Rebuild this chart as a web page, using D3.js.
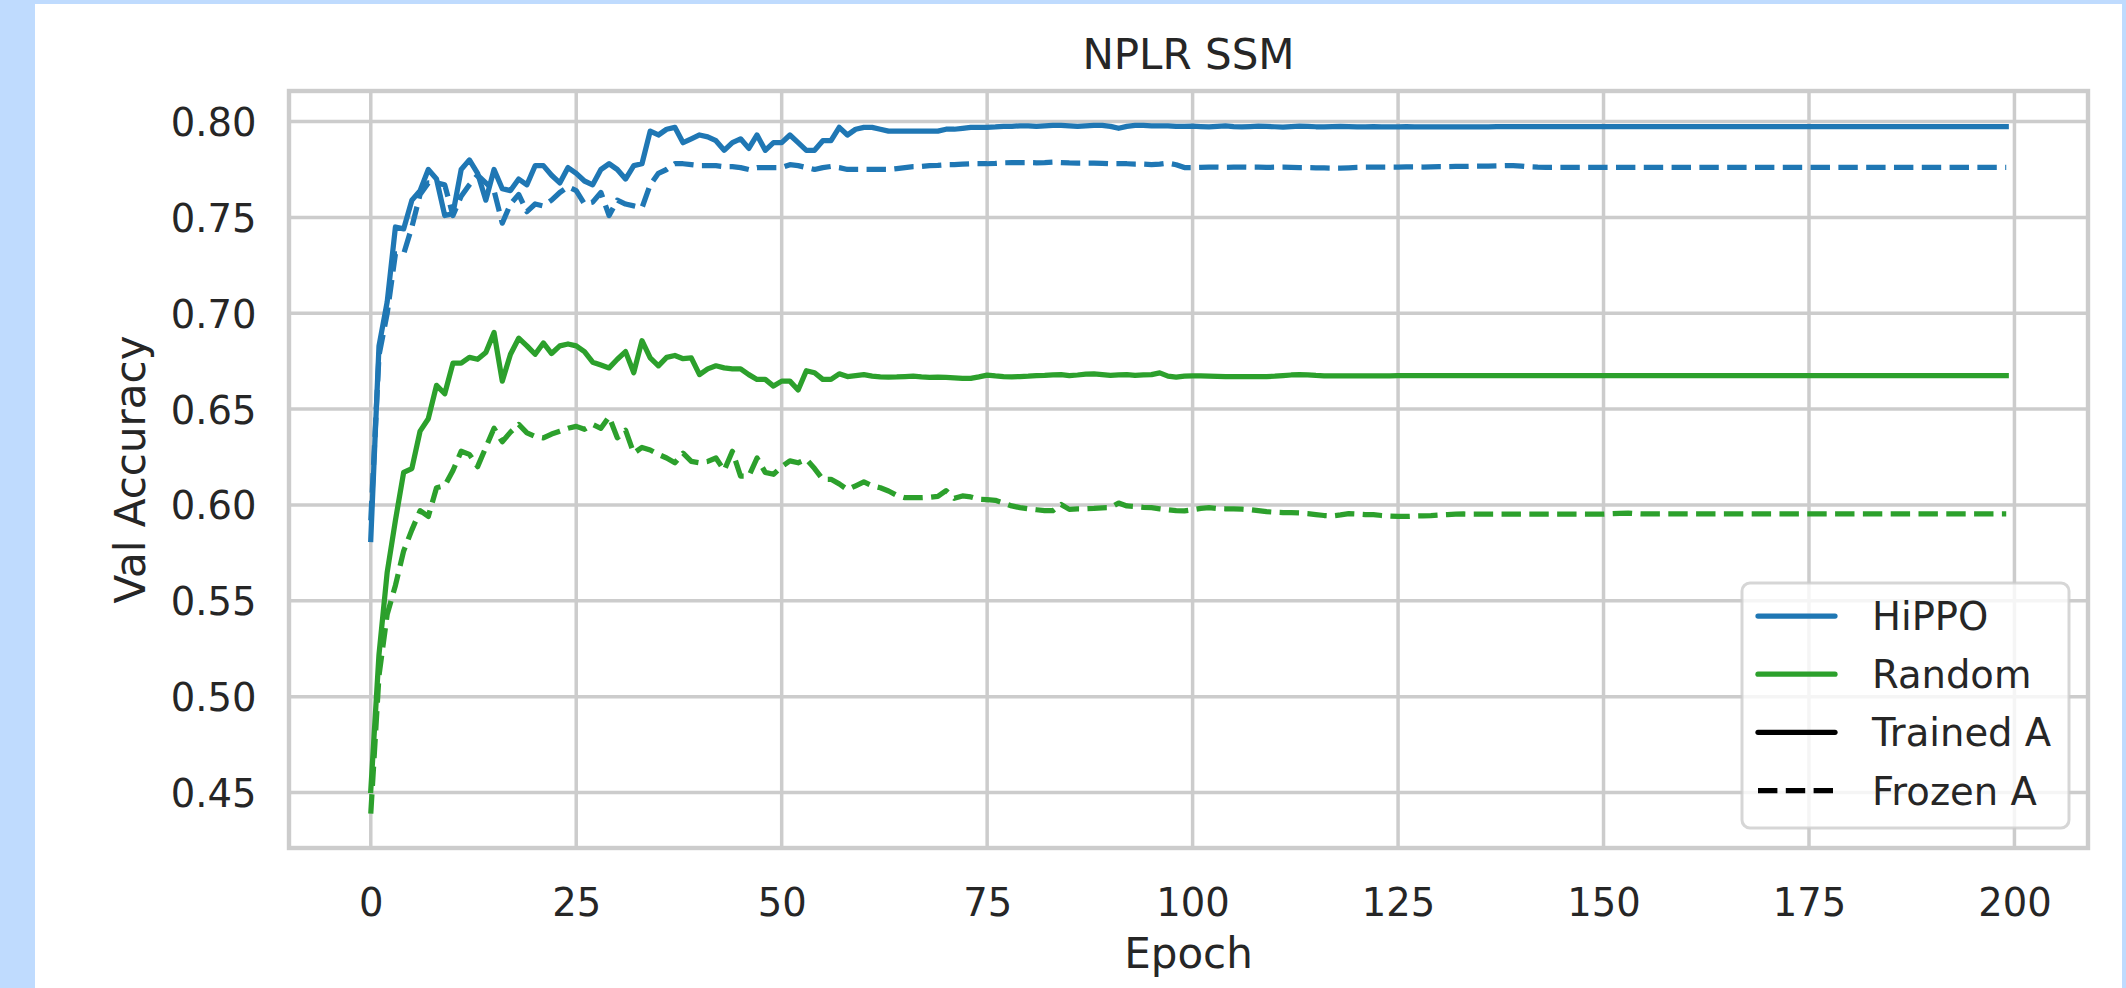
<!DOCTYPE html>
<html>
<head>
<meta charset="utf-8">
<script src="https://cdn.jsdelivr.net/npm/d3@7"></script>
<style>
  html, body { margin: 0; padding: 0; background: #bfdbfe; }
  svg { display: block; }
  text { font-family: "DejaVu Sans", sans-serif; fill: #262626; }
</style>
</head>
<body>
<svg id="chart" width="2126" height="988"></svg>
<script>
// Validation accuracy per epoch (index = epoch)
const hippoTrained = [
  0.582, 0.683, 0.706, 0.745, 0.744, 0.759, 0.764, 0.775, 0.770, 0.751,
  0.752, 0.775, 0.780, 0.773, 0.759, 0.775, 0.765, 0.764, 0.770, 0.767,
  0.777, 0.777, 0.772, 0.768, 0.776, 0.773, 0.769, 0.767, 0.775, 0.778,
  0.775, 0.770, 0.777, 0.778, 0.795, 0.793, 0.796, 0.797, 0.789, 0.791,
  0.793, 0.792, 0.790, 0.785, 0.789, 0.791, 0.786, 0.793, 0.785, 0.789,
  0.789, 0.793, 0.789, 0.785, 0.785, 0.790, 0.790, 0.797, 0.793, 0.796,
  0.797, 0.797, 0.796, 0.795, 0.795, 0.795, 0.795, 0.795, 0.795, 0.795,
  0.796, 0.796, 0.7965, 0.797, 0.797, 0.797, 0.7972, 0.7975, 0.7975, 0.7978,
  0.7978, 0.7975, 0.7978, 0.798, 0.798, 0.7978, 0.7975, 0.7978, 0.798, 0.798,
  0.7975, 0.7965, 0.7975, 0.798, 0.798, 0.7978, 0.7978, 0.7978, 0.7975, 0.7975,
  0.7976, 0.7974, 0.7972, 0.7975, 0.7977, 0.7974, 0.7972, 0.7974, 0.7976, 0.7975,
  0.7973, 0.7971, 0.7974, 0.7976, 0.7975, 0.7973, 0.7972, 0.7974, 0.7975, 0.7974,
  0.7972, 0.7973, 0.7974, 0.7973, 0.7972, 0.7973, 0.7974, 0.7973, 0.7972, 0.7973,
  0.7973, 0.7972, 0.7973, 0.7973, 0.7972, 0.7973, 0.7973, 0.7974, 0.7974, 0.7974,
  0.7974, 0.7974, 0.7974, 0.7974, 0.7974, 0.7974, 0.7974, 0.7974, 0.7974, 0.7974,
  0.7974, 0.7974, 0.7974, 0.7974, 0.7974, 0.7974, 0.7974, 0.7974, 0.7974, 0.7974,
  0.7974, 0.7974, 0.7974, 0.7974, 0.7974, 0.7974, 0.7974, 0.7974, 0.7974, 0.7974,
  0.7974, 0.7974, 0.7974, 0.7974, 0.7974, 0.7974, 0.7974, 0.7974, 0.7974, 0.7974,
  0.7974, 0.7974, 0.7974, 0.7974, 0.7974, 0.7974, 0.7974, 0.7974, 0.7974, 0.7974,
  0.7974, 0.7974, 0.7974, 0.7974, 0.7974, 0.7974, 0.7974, 0.7974, 0.7974, 0.7974
];

const hippoFrozen = [
  0.592, 0.678, 0.700, 0.731, 0.731, 0.745, 0.762, 0.768, 0.768, 0.767,
  0.751, 0.761, 0.767, 0.772, 0.768, 0.764, 0.747, 0.757, 0.762, 0.753,
  0.757, 0.756, 0.759, 0.763, 0.766, 0.764, 0.757, 0.758, 0.763, 0.751,
  0.759, 0.757, 0.756, 0.755, 0.767, 0.773, 0.775, 0.778, 0.778, 0.7775,
  0.777, 0.777, 0.777, 0.7765, 0.7765, 0.776, 0.775, 0.776, 0.776, 0.776,
  0.776, 0.7775, 0.777, 0.776, 0.775, 0.776, 0.7766, 0.776, 0.775, 0.775,
  0.775, 0.775, 0.775, 0.775, 0.7755, 0.776, 0.7765, 0.7766, 0.777, 0.7772,
  0.7775, 0.7775, 0.7778, 0.778, 0.778, 0.778, 0.7782, 0.7785, 0.7786, 0.7786,
  0.7786, 0.7785, 0.7786, 0.7788, 0.7786, 0.7784, 0.7783, 0.7783, 0.7783, 0.7782,
  0.778, 0.778, 0.778, 0.7778, 0.7778, 0.7776, 0.7778, 0.7783, 0.7775, 0.776,
  0.7760, 0.7761, 0.7762, 0.7762, 0.7761, 0.7762, 0.7763, 0.7762, 0.7762, 0.7761,
  0.7762, 0.7762, 0.7761, 0.7760, 0.7760, 0.7759, 0.7758, 0.7757, 0.7757, 0.7759,
  0.7761, 0.7762, 0.7762, 0.7763, 0.7763, 0.7763, 0.7764, 0.7764, 0.7763, 0.7764,
  0.7765, 0.7765, 0.7766, 0.7766, 0.7767, 0.7767, 0.7768, 0.7769, 0.7770, 0.7770,
  0.7768, 0.7764, 0.7762, 0.7761, 0.7761, 0.7761, 0.7761, 0.7761, 0.7761, 0.7761,
  0.7761, 0.7761, 0.7761, 0.7761, 0.7761, 0.7761, 0.7761, 0.7761, 0.7761, 0.7761,
  0.7761, 0.7761, 0.7761, 0.7761, 0.7761, 0.7761, 0.7761, 0.7761, 0.7761, 0.7761,
  0.7761, 0.7761, 0.7761, 0.7761, 0.7761, 0.7761, 0.7761, 0.7761, 0.7761, 0.7761,
  0.7761, 0.7761, 0.7761, 0.7761, 0.7761, 0.7761, 0.7761, 0.7761, 0.7761, 0.7761,
  0.7761, 0.7761, 0.7761, 0.7761, 0.7761, 0.7761, 0.7761, 0.7761, 0.7761, 0.7761
];

const randomTrained = [
  0.451, 0.522, 0.565, 0.592, 0.617, 0.619, 0.6385, 0.645, 0.6624, 0.658,
  0.674, 0.674, 0.677, 0.676, 0.6795, 0.690, 0.6646, 0.6786, 0.687, 0.683,
  0.6786, 0.6845, 0.679, 0.683, 0.684, 0.683, 0.680, 0.6745, 0.673, 0.6715,
  0.676, 0.680, 0.669, 0.6857, 0.6767, 0.6726, 0.677, 0.678, 0.6763, 0.6767,
  0.668, 0.671, 0.6726, 0.6715, 0.671, 0.671, 0.668, 0.6655, 0.6655, 0.662,
  0.6646, 0.6646, 0.660, 0.670, 0.669, 0.6655, 0.6655, 0.6684, 0.667, 0.6675,
  0.668, 0.6672, 0.6668, 0.6667, 0.6668, 0.667, 0.6672, 0.6668, 0.6665, 0.6667,
  0.6665, 0.6663, 0.666, 0.666, 0.6668, 0.6677, 0.6673, 0.667, 0.6668, 0.667,
  0.6672, 0.6675, 0.6676, 0.6678, 0.668, 0.6675, 0.6678, 0.6682, 0.6684, 0.668,
  0.6676, 0.6678, 0.668, 0.6676, 0.6678, 0.668, 0.6689, 0.6672, 0.6667, 0.6672,
  0.6674, 0.6673, 0.6672, 0.6671, 0.6670, 0.6669, 0.6669, 0.6670, 0.6669, 0.6670,
  0.6672, 0.6675, 0.6678, 0.6680, 0.6679, 0.6676, 0.6674, 0.6673, 0.6673, 0.6674,
  0.6674, 0.6674, 0.6674, 0.6674, 0.6674, 0.6675, 0.6675, 0.6675, 0.6675, 0.6675,
  0.6675, 0.6675, 0.6675, 0.6675, 0.6675, 0.6675, 0.6675, 0.6675, 0.6675, 0.6675,
  0.6675, 0.6675, 0.6675, 0.6675, 0.6675, 0.6675, 0.6675, 0.6675, 0.6675, 0.6675,
  0.6675, 0.6675, 0.6675, 0.6675, 0.6675, 0.6675, 0.6675, 0.6675, 0.6675, 0.6675,
  0.6675, 0.6675, 0.6675, 0.6675, 0.6675, 0.6675, 0.6675, 0.6675, 0.6675, 0.6675,
  0.6675, 0.6675, 0.6675, 0.6675, 0.6675, 0.6675, 0.6675, 0.6675, 0.6675, 0.6675,
  0.6675, 0.6675, 0.6675, 0.6675, 0.6675, 0.6675, 0.6675, 0.6675, 0.6675, 0.6675,
  0.6675, 0.6675, 0.6675, 0.6675, 0.6675, 0.6675, 0.6675, 0.6675, 0.6675, 0.6675
];

const randomFrozen = [
  0.439, 0.511, 0.543, 0.558, 0.576, 0.587, 0.597, 0.594, 0.609, 0.610,
  0.618, 0.628, 0.6264, 0.620, 0.630, 0.640, 0.633, 0.638, 0.642, 0.6376,
  0.6357, 0.635, 0.637, 0.6385, 0.640, 0.641, 0.6395, 0.642, 0.640, 0.646,
  0.635, 0.639, 0.627, 0.630, 0.6287, 0.6264, 0.6245, 0.622, 0.627, 0.6227,
  0.622, 0.6227, 0.6245, 0.618, 0.628, 0.615, 0.615, 0.6245, 0.617, 0.616,
  0.620, 0.623, 0.622, 0.6238, 0.619, 0.6134, 0.6134, 0.611, 0.608, 0.610,
  0.612, 0.610, 0.609, 0.6073, 0.605, 0.6038, 0.6038, 0.6038, 0.604, 0.6045,
  0.6075, 0.6035, 0.6047, 0.6042, 0.603, 0.6028, 0.6024, 0.601, 0.5995, 0.5986,
  0.598, 0.5975, 0.597, 0.597, 0.6003, 0.5977, 0.598, 0.598, 0.5982, 0.5985,
  0.5986, 0.601, 0.5995, 0.5992, 0.5988, 0.5986, 0.598, 0.5975, 0.597, 0.5969,
  0.5975, 0.5982, 0.5986, 0.5982, 0.598, 0.598, 0.5978, 0.5975, 0.597, 0.5965,
  0.5962, 0.596, 0.596, 0.5958, 0.5955, 0.595, 0.5945, 0.5943, 0.5948, 0.5955,
  0.5953, 0.595, 0.595, 0.5945, 0.5942, 0.594, 0.594, 0.5942, 0.5943, 0.5945,
  0.5948, 0.595, 0.5952, 0.5953, 0.5952, 0.5952, 0.5952, 0.5952, 0.5952, 0.5952,
  0.5952, 0.5952, 0.5952, 0.5952, 0.5952, 0.5952, 0.5952, 0.5952, 0.5952, 0.5952,
  0.5952, 0.5954, 0.5956, 0.5958, 0.5955, 0.5953, 0.5953, 0.5953, 0.5953, 0.5953,
  0.5953, 0.5953, 0.5953, 0.5953, 0.5953, 0.5953, 0.5953, 0.5953, 0.5953, 0.5953,
  0.5953, 0.5953, 0.5953, 0.5953, 0.5953, 0.5953, 0.5953, 0.5953, 0.5953, 0.5953,
  0.5953, 0.5953, 0.5953, 0.5953, 0.5953, 0.5953, 0.5953, 0.5953, 0.5953, 0.5953,
  0.5953, 0.5953, 0.5953, 0.5953, 0.5953, 0.5953, 0.5953, 0.5953, 0.5953, 0.5953
];

const xTicks = [0, 25, 50, 75, 100, 125, 150, 175, 200];
const yTicks = [0.45, 0.50, 0.55, 0.60, 0.65, 0.70, 0.75, 0.80];

const seriesList = [
  { name: "HiPPO", init: "Trained A", values: hippoTrained },
  { name: "HiPPO", init: "Frozen A", values: hippoFrozen },
  { name: "Random", init: "Trained A", values: randomTrained },
  { name: "Random", init: "Frozen A", values: randomFrozen }
];
const colorLegend = ["HiPPO", "Random"];
const styleLegend = ["Trained A", "Frozen A"];

// ---- layout & styling ----
const W = 2126, H = 988;
const plot = { left: 289, right: 2088, top: 91, bottom: 848 };
const colors = { "HiPPO": "#1f77b4", "Random": "#2ca02c" };
const dashes = { "Trained A": null, "Frozen A": "19.4,8.4" };
const lineW = 5.25;
const gridColor = "#cccccc";
const tickSize = 38.5, labelSize = 42;

const svg = d3.select("#chart");

// white card on the light-blue page
svg.append("rect").attr("x", 35).attr("y", 4)
  .attr("width", W - 35 - 4).attr("height", H - 4).attr("fill", "#ffffff");

// axis extents with a 5% margin around the data range, as in matplotlib autoscaling
const n = hippoTrained.length;
const allVals = seriesList.flatMap(s => s.values);
const xr = (n - 1);
const yMin = d3.min(allVals), yMax = d3.max(allVals), yr = yMax - yMin;

const x = d3.scaleLinear()
  .domain([-0.05 * xr, xr + 0.05 * xr])
  .range([plot.left, plot.right]);
const y = d3.scaleLinear()
  .domain([yMin - 0.05 * yr, yMax + 0.05 * yr])
  .range([plot.bottom, plot.top]);

svg.append("defs").append("clipPath").attr("id", "plotClip")
  .append("rect")
  .attr("x", plot.left).attr("y", plot.top)
  .attr("width", plot.right - plot.left).attr("height", plot.bottom - plot.top);

// grid
const grid = svg.append("g").attr("clip-path", "url(#plotClip)");
grid.selectAll("line.vx").data(xTicks).join("line")
  .attr("x1", d => x(d)).attr("x2", d => x(d))
  .attr("y1", plot.top).attr("y2", plot.bottom)
  .attr("stroke", gridColor).attr("stroke-width", 3.5);
grid.selectAll("line.hy").data(yTicks).join("line")
  .attr("x1", plot.left).attr("x2", plot.right)
  .attr("y1", d => y(d)).attr("y2", d => y(d))
  .attr("stroke", gridColor).attr("stroke-width", 3.5);

// axes (tick labels only; tick marks are hidden)
const xAxis = d3.axisBottom(x).tickValues(xTicks).tickSize(0).tickPadding(0)
  .tickFormat(d3.format("d"));
const gx = svg.append("g").attr("transform", `translate(0,${plot.bottom})`).call(xAxis);
gx.select(".domain").remove();
gx.selectAll("text")
  .attr("y", 916 - plot.bottom).attr("dy", 0)
  .style("font-size", tickSize + "px").attr("fill", "#262626");

const yAxis = d3.axisLeft(y).tickValues(yTicks).tickSize(0).tickPadding(0)
  .tickFormat(d3.format(".2f"));
const gy = svg.append("g").attr("transform", `translate(${plot.left},0)`).call(yAxis);
gy.select(".domain").remove();
gy.selectAll("text")
  .attr("x", 256.5 - plot.left).attr("dy", "0.364em")
  .style("font-size", tickSize + "px").attr("fill", "#262626");

// lines
const line = d3.line().x((d, i) => x(i)).y(d => y(d));
const linesG = svg.append("g").attr("clip-path", "url(#plotClip)");
seriesList.forEach(s => {
  linesG.append("path")
    .datum(s.values)
    .attr("d", line)
    .attr("fill", "none")
    .attr("stroke", colors[s.name])
    .attr("stroke-width", lineW)
    .attr("stroke-linejoin", "round")
    .attr("stroke-linecap", dashes[s.init] ? "butt" : "square")
    .attr("stroke-dasharray", dashes[s.init]);
});

// frame
svg.append("rect")
  .attr("x", plot.left).attr("y", plot.top)
  .attr("width", plot.right - plot.left).attr("height", plot.bottom - plot.top)
  .attr("fill", "none").attr("stroke", gridColor).attr("stroke-width", 4.4);

// title and axis labels
svg.append("text").attr("x", (plot.left + plot.right) / 2).attr("y", 69)
  .attr("text-anchor", "middle").style("font-size", labelSize + "px").text("NPLR SSM");
svg.append("text").attr("x", (plot.left + plot.right) / 2).attr("y", 968)
  .attr("text-anchor", "middle").style("font-size", labelSize + "px").text("Epoch");
svg.append("text")
  .attr("transform", `translate(145,${(plot.top + plot.bottom) / 2}) rotate(-90)`)
  .attr("text-anchor", "middle").style("font-size", labelSize + "px").text("Val Accuracy");

// legend
const legend = svg.append("g");
legend.append("rect")
  .attr("x", 1742).attr("y", 583).attr("width", 327).attr("height", 245)
  .attr("rx", 8).attr("ry", 8)
  .attr("fill", "#ffffff").attr("fill-opacity", 0.8)
  .attr("stroke", "#cccccc").attr("stroke-opacity", 0.8).attr("stroke-width", 3);

const legendItems = [
  ...colorLegend.map(c => ({ label: c, color: colors[c], dash: null })),
  ...styleLegend.map(st => ({ label: st, color: "#000000", dash: dashes[st] }))
];
const rowY = d3.scalePoint().domain(legendItems.map(d => d.label)).range([616, 790.5]);
const rows = legend.selectAll("g.item").data(legendItems).join("g")
  .attr("transform", d => `translate(0,${rowY(d.label)})`);
rows.append("line")
  .attr("x1", 1758).attr("x2", 1835).attr("y1", 0).attr("y2", 0)
  .attr("stroke", d => d.color).attr("stroke-width", lineW)
  .attr("stroke-linecap", d => d.dash ? "butt" : "round")
  .attr("stroke-dasharray", d => d.dash);
rows.append("text")
  .attr("x", 1872).attr("y", 14)
  .style("font-size", tickSize + "px").text(d => d.label);
</script>
</body>
</html>
